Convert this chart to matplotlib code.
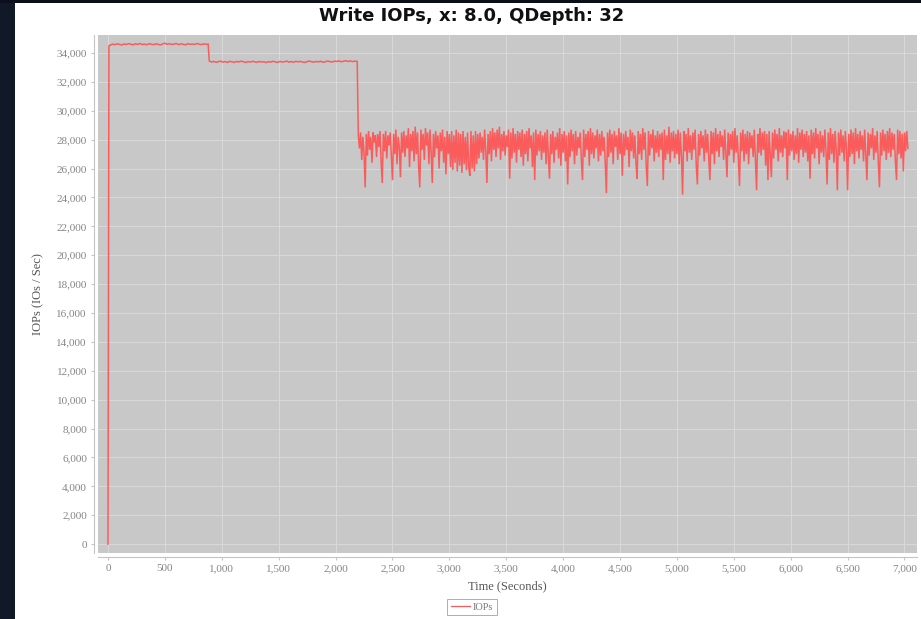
import numpy as np
import matplotlib
matplotlib.use("Agg")
import matplotlib.pyplot as plt
from matplotlib.ticker import FuncFormatter, MultipleLocator
from matplotlib.lines import Line2D
from matplotlib.patches import Rectangle

# ---- data -------------------------------------------------------------
# ramp-up at the very start
ramp_times = [0, 8]
ramp_iops = [0, 34500]

# phase 1: steady state, sampled every 20 s from t = 20
phase1_start, phase1_step = 20, 20
phase1_iops = [
    34550, 34620, 34580, 34640, 34600, 34560, 34630, 34590, 34650, 34610,
    34570, 34640, 34600, 34660, 34590, 34620, 34570, 34650, 34610, 34580,
    34640, 34600, 34560, 34630, 34680, 34600, 34650, 34590, 34620, 34660,
    34580, 34640, 34610, 34570, 34650, 34600, 34630, 34590, 34660, 34620,
    34580, 34640, 34600, 34620,
]

# phase 2: slightly lower plateau, sampled every 20 s from t = 890
phase2_start, phase2_step = 890, 20
phase2_iops = [
    33450, 33380, 33420, 33360, 33400, 33440, 33370, 33410, 33350, 33430,
    33390, 33360, 33420, 33380, 33440, 33400, 33350, 33410, 33370, 33430,
    33390, 33360, 33420, 33380, 33400, 33340, 33410, 33370, 33430, 33390,
    33350, 33420, 33380, 33400, 33440, 33370, 33410, 33360, 33430, 33390,
    33420, 33380, 33350, 33410, 33440, 33400, 33370, 33420, 33390, 33430,
    33360, 33400, 33450, 33410, 33380, 33440, 33420, 33460, 33400, 33430,
    33470, 33420, 33450, 33410, 33440, 33420,
]

# phase 3: garbage-collection regime, sampled every 10 s from t = 2200
phase3_start, phase3_step = 2200, 10
phase3_iops = [
    28300, 27400, 28500, 26600, 28200, 27100, 24700, 28400, 26900, 28600, 27300, 28200, 26400, 28500, 27800, 28300, 26800, 28400, 27500, 28600,
    26500, 25000, 28400, 27200, 28600, 26700, 28300, 27600, 28500, 26900, 25200, 28400, 27000, 28700, 26300, 28200, 27500, 25400, 28500, 27100,
    28600, 26800, 28300, 27400, 28800, 26100, 28400, 27200, 28600, 26500, 28900, 27000, 28500, 26200, 24700, 28700, 27300, 28400, 26600, 28800,
    27600, 28500, 26300, 28700, 27100, 25000, 28400, 26800, 28600, 27400, 28300, 26000, 28500, 27200, 28700, 26400, 28200, 25600, 28600, 27000,
    28400, 26100, 28600, 25900, 28300, 26400, 28700, 25800, 28500, 26200, 28400, 25700, 28600, 26300, 28200, 25900, 28500, 26100, 25500, 28600,
    26000, 28300, 25800, 28600, 26300, 28400, 26700, 28500, 27100, 28200, 26600, 28700, 27200, 25000, 28400, 27000, 28600, 26500, 28800, 27300,
    28500, 26800, 28700, 27400, 28900, 26600, 28400, 27200, 28600, 26900, 28300, 27500, 28700, 25300, 28500, 26700, 28800, 27100, 28400, 26400,
    28600, 27300, 28500, 26800, 28700, 26200, 28400, 27000, 28600, 26500, 28800, 27400, 28300, 26100, 28500, 25200, 28700, 26900, 28400, 27200,
    28600, 26600, 28300, 27100, 28500, 26300, 28700, 26900, 25300, 28400, 27000, 28600, 26400, 28200, 27300, 28500, 26700, 28800, 26200, 28400,
    27100, 28600, 26500, 28300, 24900, 28500, 26800, 28700, 27200, 28400, 26300, 28600, 26900, 28200, 27400, 28500, 26600, 25200, 28700, 26800,
    28400, 27300, 28600, 26200, 28800, 27000, 28500, 26700, 28300, 27400, 28700, 26500, 28400, 26900, 28600, 27200, 28200, 26400, 24300, 28500,
    26800, 28700, 27100, 28400, 26300, 28600, 27500, 28300, 26600, 28800, 27000, 28500, 25500, 28400, 26900, 28600, 27300, 28200, 26100, 28700,
    27200, 28500, 26700, 28300, 26400, 25300, 28600, 27000, 28400, 26600, 28800, 27300, 28500, 26200, 24800, 28600, 26900, 28400, 27400, 28700,
    26500, 28300, 27100, 28600, 26800, 28400, 27300, 28500, 25200, 28700, 26600, 28300, 27000, 28900, 26400, 28500, 27200, 28600, 26700, 28400,
    27000, 28700, 26300, 28500, 26800, 24200, 28600, 27200, 28400, 26500, 28800, 27100, 28300, 26600, 28500, 27300, 28700, 26200, 24900, 28400,
    26900, 28600, 27400, 28300, 26500, 28700, 27100, 28400, 26700, 25200, 28600, 27000, 28500, 26300, 28800, 27200, 28400, 26800, 28600, 27500,
    28300, 26600, 28700, 27000, 25400, 28500, 26900, 28400, 27300, 28600, 26400, 28800, 27100, 28300, 26700, 24800, 28500, 27200, 28700, 26500,
    28400, 27000, 28600, 26300, 28500, 27400, 28300, 26800, 28700, 26600, 24500, 28400, 27100, 28800, 26900, 28500, 27300, 28600, 26200, 28400,
    25200, 28600, 27000, 25400, 28500, 26700, 28700, 27300, 28400, 26500, 28800, 27100, 28300, 26800, 28600, 27400, 28500, 25200, 28700, 26900,
    28400, 27200, 28600, 26600, 28300, 27000, 28800, 26400, 28500, 27300, 28700, 26800, 28400, 27100, 28600, 26500, 28300, 25300, 28700, 27000,
    28500, 26700, 28800, 27400, 28400, 26300, 28600, 27100, 28300, 26800, 28700, 27200, 24900, 28500, 26600, 28800, 27000, 28400, 26400, 28600,
    27300, 24500, 28500, 26900, 28700, 27100, 28300, 26500, 28600, 27400, 24500, 28400, 26800, 28700, 27000, 28500, 26300, 28800, 27200, 28400,
    26700, 28600, 27300, 28300, 26500, 28700, 27000, 25200, 28500, 26900, 28400, 27400, 28800, 26600, 28300, 27100, 28600, 26400, 24700, 28500,
    26900, 28700, 27200, 28400, 26600, 28600, 27100, 28800, 26800, 28500, 27300, 28400, 26500, 25200, 28700, 27000, 28600, 26700, 28400, 25800,
    28500, 27200, 28600, 27400,
]

series_name = "IOPs"
title_text = "Write IOPs, x: 8.0, QDepth: 32"
x_label = "Time (Seconds)"
y_label = "IOPs (IOs / Sec)"

# ---- assemble the time series ----------------------------------------
t1 = phase1_start + phase1_step * np.arange(len(phase1_iops))
t2 = phase2_start + phase2_step * np.arange(len(phase2_iops))
t3 = phase3_start + phase3_step * np.arange(len(phase3_iops))
times = np.concatenate([ramp_times, t1, t2, t3])
iops = np.concatenate([ramp_iops, phase1_iops, phase2_iops, phase3_iops])

# ---- figure -----------------------------------------------------------
W, H = 921, 619
fig = plt.figure(figsize=(W / 100, H / 100), dpi=100)
fig.patch.set_facecolor("white")

# dark window frame along the left and top edges
fig.patches.append(Rectangle((0, 0), 15 / W, 1, transform=fig.transFigure,
                             facecolor="#111827", edgecolor="none", zorder=0))
fig.patches.append(Rectangle((0, 1 - 3 / H), 1, 3 / H, transform=fig.transFigure,
                             facecolor="#0b0f1c", edgecolor="none", zorder=0))

left, right, top, bottom = 98, 917, 35, 553
ax = fig.add_axes([left / W, 1 - bottom / H, (right - left) / W, (bottom - top) / H])
ax.set_facecolor("#c8c8c8")

ax.plot(times, iops, color="#fa5c5c", linewidth=1.1, label=series_name,
        solid_joinstyle="miter")

ax.set_xlim(-88, 7110)
ax.set_ylim(-620, 35250)
ax.xaxis.set_major_locator(MultipleLocator(500))
ax.yaxis.set_major_locator(MultipleLocator(2000))
fmt = FuncFormatter(lambda v, p: f"{int(round(v)):,}")
ax.xaxis.set_major_formatter(fmt)
ax.yaxis.set_major_formatter(fmt)

ax.grid(True, color="#dcdcdc", linewidth=0.6)
ax.set_axisbelow(True)

for side in ("top", "right"):
    ax.spines[side].set_visible(False)
for side in ("left", "bottom"):
    ax.spines[side].set_position(("outward", 3))
    ax.spines[side].set_color("#c4c4c4")
    ax.spines[side].set_linewidth(0.8)

ax.tick_params(axis="both", colors="#c4c4c4", length=2, width=0.8,
               labelcolor="#858585", labelsize=8, pad=3)
for lbl in ax.get_xticklabels() + ax.get_yticklabels():
    lbl.set_fontfamily("Liberation Serif")

ax.set_xlabel(x_label, fontsize=9, color="#555555", family="Liberation Serif", labelpad=5)
ax.set_ylabel(y_label, fontsize=9, color="#555555", family="Liberation Serif", labelpad=9)

fig.text(472 / W, 1 - 16 / H, title_text, ha="center", va="center",
         fontsize=13, fontweight="bold", family="DejaVu Sans", color="#111111")

handle = Line2D([], [], color="#fa5c5c", linewidth=0.9)
leg = fig.legend([handle], [series_name], loc="center",
                 bbox_to_anchor=(472 / W, 1 - 607 / H), frameon=True,
                 fancybox=False, prop=dict(family="Liberation Serif", size=7.5),
                 handlelength=1.8, handletextpad=0.3, borderpad=0.35,
                 borderaxespad=0)
leg.get_frame().set_edgecolor("#9a9a9a")
leg.get_frame().set_linewidth(0.7)
for t in leg.get_texts():
    t.set_color("#777777")

fig.savefig("out.png", dpi=100, facecolor=fig.get_facecolor())
